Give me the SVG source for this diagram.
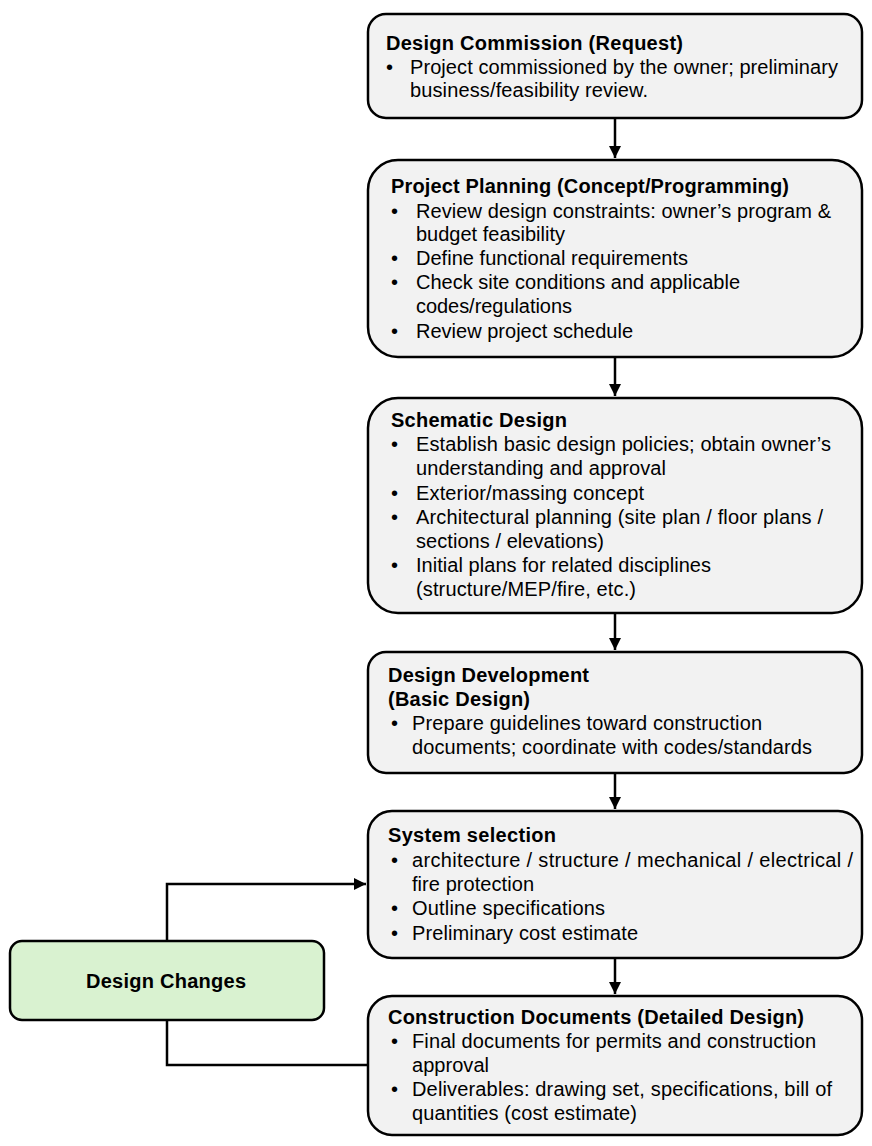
<svg xmlns="http://www.w3.org/2000/svg" width="872" height="1146" viewBox="0 0 872 1146">
<style>
.box{fill:#f2f2f2;stroke:#000;stroke-width:2.5}
.green{fill:#d9f2d0;stroke:#000;stroke-width:2.5}
text{font-family:"Liberation Sans",Arial,sans-serif;font-size:20px;fill:#000}
.t{font-weight:bold}
.c{stroke:#000;stroke-width:2.5;fill:none}
</style>
<defs>
<marker id="ah" viewBox="0 0 10 10" refX="10" refY="5" markerWidth="5" markerHeight="5" orient="auto" markerUnits="strokeWidth">
<path d="M0,0 L10,5 L0,10 z" fill="#000"/>
</marker>
</defs>
<rect width="872" height="1146" fill="#fff"/>
<g id="connectors">
<line class="c" x1="615" y1="119" x2="615" y2="158" marker-end="url(#ah)"/>
<line class="c" x1="615" y1="358" x2="615" y2="396" marker-end="url(#ah)"/>
<line class="c" x1="615" y1="614" x2="615" y2="650" marker-end="url(#ah)"/>
<line class="c" x1="615" y1="774" x2="615" y2="809" marker-end="url(#ah)"/>
<line class="c" x1="615" y1="959" x2="615" y2="994" marker-end="url(#ah)"/>
<polyline class="c" points="167,941 167,884 366,884" marker-end="url(#ah)"/>
<polyline class="c" points="167,1020 167,1065 368,1065"/>
</g>
<g id="n1">
<rect class="box" x="368" y="14" width="494" height="104" rx="18"/>
<text class="t" x="386" y="50" textLength="297">Design Commission (Request)</text>
<text x="386" y="74">•</text>
<text x="410" y="74" textLength="428">Project commissioned by the owner; preliminary</text>
<text x="410" y="97" textLength="238">business/feasibility review.</text>
</g>
<g id="n2">
<rect class="box" x="368" y="160" width="494" height="197" rx="30"/>
<text class="t" x="391" y="193" textLength="398">Project Planning (Concept/Programming)</text>
<text x="391" y="218">•</text><text x="416" y="218" textLength="415">Review design constraints: owner’s program &amp;</text>
<text x="416" y="241" textLength="149">budget feasibility</text>
<text x="391" y="265">•</text><text x="416" y="265" textLength="272">Define functional requirements</text>
<text x="391" y="289">•</text><text x="416" y="289" textLength="324">Check site conditions and applicable</text>
<text x="416" y="313" textLength="156">codes/regulations</text>
<text x="391" y="338">•</text><text x="416" y="338" textLength="217">Review project schedule</text>
</g>
<g id="n3">
<rect class="box" x="368" y="398" width="494" height="215" rx="30"/>
<text class="t" x="391" y="427" textLength="176">Schematic Design</text>
<text x="391" y="451">•</text><text x="416" y="451" textLength="415">Establish basic design policies; obtain owner’s</text>
<text x="416" y="475" textLength="250">understanding and approval</text>
<text x="391" y="500">•</text><text x="416" y="500" textLength="228">Exterior/massing concept</text>
<text x="391" y="524">•</text><text x="416" y="524" textLength="407">Architectural planning (site plan / floor plans /</text>
<text x="416" y="548" textLength="188">sections / elevations)</text>
<text x="391" y="572">•</text><text x="416" y="572" textLength="295">Initial plans for related disciplines</text>
<text x="416" y="596" textLength="220">(structure/MEP/fire, etc.)</text>
</g>
<g id="n4">
<rect class="box" x="368" y="652" width="494" height="121" rx="18"/>
<text class="t" x="388" y="682" textLength="201">Design Development</text>
<text class="t" x="388" y="706" textLength="142">(Basic Design)</text>
<text x="391" y="730">•</text><text x="412" y="730" textLength="350">Prepare guidelines toward construction</text>
<text x="412" y="754" textLength="400">documents; coordinate with codes/standards</text>
</g>
<g id="n5">
<rect class="box" x="368" y="811" width="494" height="147" rx="24"/>
<text class="t" x="388" y="842" textLength="168">System selection</text>
<text x="391" y="867">•</text><text x="412" y="867" textLength="441">architecture / structure / mechanical / electrical /</text>
<text x="412" y="891" textLength="122">fire protection</text>
<text x="391" y="915">•</text><text x="412" y="915" textLength="193">Outline specifications</text>
<text x="391" y="940">•</text><text x="412" y="940" textLength="226">Preliminary cost estimate</text>
</g>
<g id="n6">
<rect class="box" x="368" y="996" width="494" height="139" rx="24"/>
<text class="t" x="388" y="1024" textLength="416">Construction Documents (Detailed Design)</text>
<text x="391" y="1048">•</text><text x="412" y="1048" textLength="404">Final documents for permits and construction</text>
<text x="412" y="1072" textLength="77">approval</text>
<text x="391" y="1096">•</text><text x="412" y="1096" textLength="420">Deliverables: drawing set, specifications, bill of</text>
<text x="412" y="1120" textLength="225">quantities (cost estimate)</text>
</g>
<g id="n7">
<rect class="green" x="10" y="941" width="314" height="79" rx="12"/>
<text class="t" x="86" y="988" textLength="160">Design Changes</text>
</g>
</svg>
